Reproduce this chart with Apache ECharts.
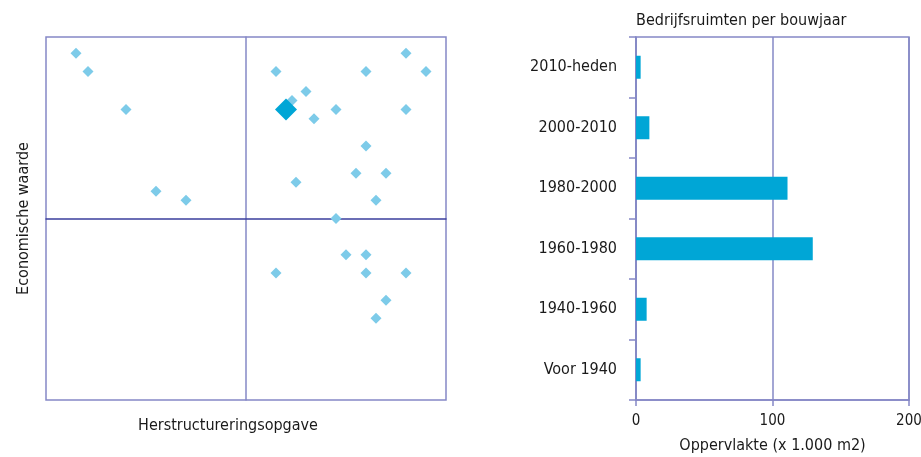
<!DOCTYPE html>
<html lang="nl">
<head>
    <meta charset="UTF-8">
    <script src="https://cdn.jsdelivr.net/npm/echarts@6/dist/echarts.min.js"></script>
    <title>Bedrijfsruimten</title>
</head>
<body style="margin:0;">
    <div id="main" style="width:921px;height:457px;"></div>
    <script>
        // scatter: herstructureringsopgave (x) vs economische waarde (y), -10..10
        var punten = [
            [-8.5, 9.1], [-7.9, 8.1], [-6, 6], [-4.5, 1.5], [-3, 1],
            [1.5, 8.1], [6, 8.1], [8, 9.1], [9, 8.1], [3, 7], [2.3, 6.5],
            [4.5, 6], [8, 6], [3.4, 5.5], [6, 4], [5.5, 2.5], [7, 2.5],
            [2.5, 2], [6.5, 1], [4.5, 0], [5, -2], [6, -2], [1.5, -3],
            [6, -3], [8, -3], [7, -4.5], [6.5, -5.5]
        ];
        var hoofdpunt = [[2, 6]];

        // bars: oppervlakte per bouwjaar (x 1.000 m2)
        var bouwjaren = ['Voor 1940', '1940-1960', '1960-1980', '1980-2000', '2000-2010', '2010-heden'];
        var oppervlakte = [3.4, 7.8, 129.5, 111, 9.8, 3.4];
        var xTicks = [0, 100, 200];

        var lav = '#8588c6';
        var donker = '#3b3f9d';
        var font = 'DejaVu Sans Condensed, Roboto, sans-serif';

        var myChart = echarts.init(document.getElementById('main'));
        var option = {
            animation: false,
            textStyle: { fontFamily: font, color: '#1a1a1a' },
            title: {
                text: 'Bedrijfsruimten per bouwjaar',
                left: 636, top: 13, padding: 0,
                textStyle: { fontFamily: font, fontSize: 16, fontWeight: 'normal', color: '#1a1a1a' }
            },
            grid: [
                { left: 46, top: 37, width: 400, height: 363, show: true, borderColor: lav, borderWidth: 1.5, outerBoundsMode: 'none', containLabel: false },
                { left: 636, top: 37, width: 273, height: 363, show: true, borderColor: lav, borderWidth: 1.5, outerBoundsMode: 'none', containLabel: false }
            ],
            xAxis: [
                {
                    gridIndex: 0, type: 'value', min: -10, max: 10,
                    name: 'Herstructureringsopgave', nameLocation: 'middle', nameGap: 18,
                    nameTextStyle: { fontFamily: font, fontSize: 16, color: '#1a1a1a', padding: [0, 36, 0, 0] },
                    axisLine: { show: true, onZero: true, lineStyle: { color: donker, width: 1.5 } },
                    axisTick: { show: false }, axisLabel: { show: false }, splitLine: { show: false }
                },
                {
                    gridIndex: 1, type: 'value', min: 0, max: 200, interval: 100,
                    name: 'Oppervlakte (x 1.000 m2)', nameLocation: 'middle', nameGap: 38,
                    nameTextStyle: { fontFamily: font, fontSize: 16, color: '#1a1a1a' },
                    axisLine: { show: true, lineStyle: { color: lav, width: 1.5 } },
                    axisTick: { show: true, length: 6, lineStyle: { color: lav, width: 1.5 } },
                    axisLabel: {
                        fontFamily: font, fontSize: 15, color: '#1a1a1a', margin: 14,
                        formatter: function (v) { return xTicks.indexOf(v) >= 0 ? String(v) : ''; }
                    },
                    splitLine: { show: true, lineStyle: { color: lav, width: 1.5 } }
                }
            ],
            yAxis: [
                {
                    gridIndex: 0, type: 'value', min: -10, max: 10,
                    name: 'Economische waarde', nameLocation: 'middle', nameGap: 14,
                    nameTextStyle: { fontFamily: font, fontSize: 16, color: '#1a1a1a' },
                    axisLine: { show: true, onZero: true, lineStyle: { color: lav, width: 1.5 } },
                    axisTick: { show: false }, axisLabel: { show: false }, splitLine: { show: false }
                },
                {
                    gridIndex: 1, type: 'category', data: bouwjaren,
                    axisLine: { show: true, lineStyle: { color: lav, width: 1.5 } },
                    axisTick: { show: true, length: 7, lineStyle: { color: lav, width: 1.5 } },
                    axisLabel: { fontFamily: font, fontSize: 16, color: '#1a1a1a', margin: 19, padding: [4, 0, 0, 0] }
                }
            ],
            series: [
                {
                    type: 'scatter', xAxisIndex: 0, yAxisIndex: 0,
                    symbol: 'diamond', symbolSize: 11,
                    itemStyle: { color: '#7dcbe9', opacity: 1 },
                    data: punten
                },
                {
                    type: 'scatter', xAxisIndex: 0, yAxisIndex: 0,
                    symbol: 'diamond', symbolSize: 22,
                    itemStyle: { color: '#00a6d6', opacity: 1 },
                    data: hoofdpunt
                },
                {
                    type: 'bar', xAxisIndex: 1, yAxisIndex: 1,
                    barWidth: 23,
                    itemStyle: { color: '#00a6d6' },
                    data: oppervlakte
                }
            ]
        };
        myChart.setOption(option);
    </script>
</body>
</html>
